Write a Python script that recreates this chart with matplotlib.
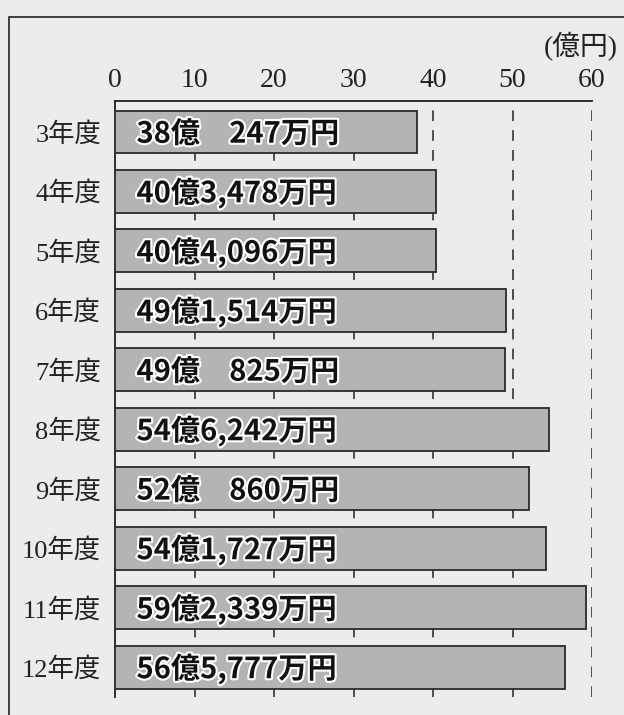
import matplotlib
matplotlib.use("Agg")
import matplotlib.pyplot as plt
import matplotlib.patheffects as pe
from matplotlib.patches import Rectangle

categories = ["3年度", "4年度", "5年度", "6年度", "7年度", "8年度", "9年度", "10年度", "11年度", "12年度"]
values = [38.0247, 40.3478, 40.4096, 49.1514, 49.0825, 54.6242, 52.0860, 54.1727, 59.2339, 56.5777]
bar_labels = ["38億\u3000247万円", "40億3,478万円", "40億4,096万円", "49億1,514万円", "49億\u3000825万円",
              "54億6,242万円", "52億\u3000860万円", "54億1,727万円", "59億2,339万円", "56億5,777万円"]
xticks = [0, 10, 20, 30, 40, 50, 60]
unit_label = "(億円)"

W, H = 624, 715
fig = plt.figure(figsize=(W / 100, H / 100), dpi=100)
bg = "#ececec"
fig.patch.set_facecolor(bg)

# outer frame
fig.add_artist(Rectangle((9 / W, -0.1), 1.2, 1.1 - 17 / H, transform=fig.transFigure,
                         fill=False, edgecolor="#222222", linewidth=1.2))

ax = fig.add_axes([115 / W, 1 - 697 / H, (592 - 115) / W, (697 - 101) / H])
ax.set_facecolor("none")

y = list(range(len(categories)))
ax.barh(y, values, height=0.72, color="#b4b4b4", edgecolor="#2a2a2a", linewidth=1.3, zorder=3)

for yi, lab in zip(y, bar_labels):
    ax.text(2.7, yi + 0.03, lab, va="center", ha="left", fontsize=21, fontweight="bold",
            family=["Noto Sans CJK JP"], color="#111111", zorder=4,
            path_effects=[pe.withStroke(linewidth=3, foreground="white")])

ax.set_xlim(0, 60)
ax.set_ylim(len(categories) - 0.5, -0.52)
ax.xaxis.tick_top()
ax.set_xticks(xticks)
ax.set_xticklabels([str(t) for t in xticks], fontsize=20, family=["Liberation Serif"], color="#222222")
ax.set_yticks(y)
ax.set_yticklabels(categories, fontsize=19, family=["Liberation Serif", "Noto Sans CJK JP"], color="#222222")
ax.tick_params(axis="x", length=0, pad=6)
ax.tick_params(axis="y", length=0, pad=10)

for t in xticks[1:]:
    ax.axvline(t, color="#222222", linestyle=(0, (7, 6)), linewidth=1.1, zorder=1)

for s in ["right", "bottom"]:
    ax.spines[s].set_visible(False)
for s in ["top", "left"]:
    ax.spines[s].set_linewidth(1.3)
    ax.spines[s].set_color("#222222")

fig.text(618 / W, 1 - 47 / H, unit_label, ha="right", va="center", fontsize=20,
         family=["Liberation Serif", "Noto Sans CJK JP"], color="#222222")

fig.savefig("out.png", dpi=100, facecolor=bg)
